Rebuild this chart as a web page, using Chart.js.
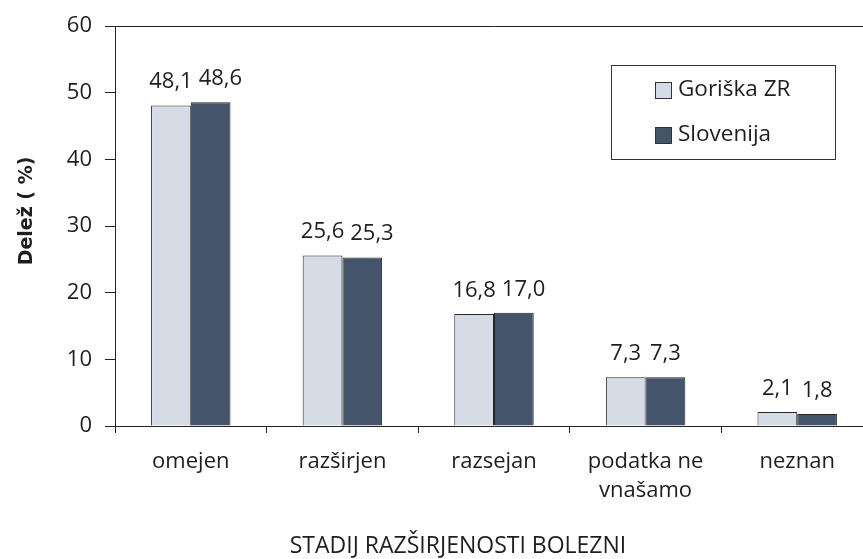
<!DOCTYPE html>
<html>
<head>
<meta charset="utf-8">
<script src="https://cdn.jsdelivr.net/npm/chart.js@4"></script>
<style>
  html, body { margin: 0; padding: 0; overflow: hidden; background: #fff; }
  canvas { display: block; }
</style>
</head>
<body>
<canvas id="chart" width="890" height="559"></canvas>
<script>
// podatki
const categories = ['omejen', 'razširjen', 'razsejan', ['podatka ne', 'vnašamo'], 'neznan'];
const seriesNames = ['Goriška ZR', 'Slovenija'];
const goriska = [48.1, 25.6, 16.8, 7.3, 2.1];
const slovenija = [48.6, 25.3, 17.0, 7.3, 1.8];
const yTicks = [0, 10, 20, 30, 40, 50, 60];
const yTitle = 'Delež ( %)';
const xTitle = 'STADIJ RAZŠIRJENOSTI BOLEZNI';

const fontFamily = '"Open Sans", sans-serif';
const textColor = '#1e1e1e';
const axisColor = '#222';
const colors = ['#d6dce5', '#44546a'];

function fmt(v) {
    return v.toFixed(1).replace('.', ',');
}

// oznake nad stolpci, legenda in naslovi osi
const decorPlugin = {
    id: 'decor',
    afterDatasetsDraw(chart) {
        const ctx = chart.ctx;
        ctx.save();
        ctx.font = '22px ' + fontFamily;
        ctx.fillStyle = textColor;
        ctx.textAlign = 'left';
        ctx.textBaseline = 'alphabetic';
        const m0 = chart.getDatasetMeta(0);
        const m1 = chart.getDatasetMeta(1);
        m0.data.forEach((bar0, i) => {
            const bar1 = m1.data[i];
            const t0 = fmt(chart.data.datasets[0].data[i]);
            const t1 = fmt(chart.data.datasets[1].data[i]);
            const w0 = ctx.measureText(t0).width;
            const w1 = ctx.measureText(t1).width;
            const x0 = bar0.x - w0 / 2;
            let x1 = bar1.x - w1 / 2;
            if (x1 < x0 + w0 + 6) x1 = x0 + w0 + 6;
            ctx.fillText(t0, x0, bar0.y - 17);
            ctx.fillText(t1, x1, bar1.y - 17);
        });

        // legenda
        ctx.strokeStyle = '#333';
        ctx.lineWidth = 1;
        ctx.fillStyle = '#fff';
        ctx.fillRect(611.5, 65.5, 224, 94);
        ctx.strokeRect(611.5, 65.5, 224, 94);
        ctx.textBaseline = 'middle';
        ctx.font = '22.5px ' + fontFamily;
        const rows = [90, 135];
        chart.data.datasets.forEach((ds, i) => {
            ctx.fillStyle = ds.backgroundColor;
            ctx.fillRect(655.5, rows[i] - 8 + 0.5, 16, 16);
            ctx.strokeStyle = '#333';
            ctx.strokeRect(655.5, rows[i] - 8 + 0.5, 16, 16);
            ctx.fillStyle = textColor;
            ctx.fillText(ds.label, 678, rows[i]);
        });

        // naslov osi y
        ctx.save();
        ctx.translate(27, 211);
        ctx.rotate(-Math.PI / 2);
        ctx.font = 'bold 19px "DejaVu Sans", sans-serif';
        ctx.textAlign = 'center';
        ctx.textBaseline = 'middle';
        ctx.fillText(yTitle, 0, 0);
        ctx.restore();

        // naslov osi x
        ctx.font = '23px ' + fontFamily;
        ctx.textAlign = 'center';
        ctx.textBaseline = 'middle';
        ctx.fillText(xTitle, 458, 546);
        ctx.restore();
    }
};

new Chart(document.getElementById('chart'), {
    type: 'bar',
    data: {
        labels: categories,
        datasets: [
            {
                label: seriesNames[0],
                data: goriska,
                backgroundColor: colors[0],
                borderColor: '#262626',
                borderWidth: 1
            },
            {
                label: seriesNames[1],
                data: slovenija,
                backgroundColor: colors[1],
                borderColor: '#262626',
                borderWidth: 1
            }
        ]
    },
    options: {
        responsive: false,
        animation: false,
        layout: { padding: { top: 23, right: 17, left: 0, bottom: 0 } },
        datasets: {
            bar: { categoryPercentage: 0.524, barPercentage: 1.0 }
        },
        scales: {
            x: {
                grid: {
                    offset: true,
                    drawOnChartArea: false,
                    color: axisColor,
                    tickColor: axisColor,
                    tickLength: 7
                },
                border: { color: axisColor, width: 1 },
                ticks: {
                    font: { family: fontFamily, size: 22, lineHeight: 1.32 },
                    color: textColor,
                    padding: 14,
                    maxRotation: 0,
                    autoSkip: false
                },
                afterFit: s => { s.height = 133; }
            },
            y: {
                min: 0,
                max: 60,
                grid: {
                    color: c => (c.tick && c.tick.value === 60) ? axisColor : 'transparent',
                    tickColor: axisColor,
                    tickLength: 10
                },
                border: { color: axisColor, width: 1 },
                ticks: {
                    font: { family: fontFamily, size: 22 },
                    color: textColor,
                    padding: 13
                },
                afterBuildTicks: s => { s.ticks = yTicks.map(v => ({ value: v })); },
                afterFit: s => { s.width = 115; }
            }
        },
        plugins: {
            legend: { display: false },
            tooltip: { enabled: false }
        }
    },
    plugins: [decorPlugin]
});
</script>
</body>
</html>
